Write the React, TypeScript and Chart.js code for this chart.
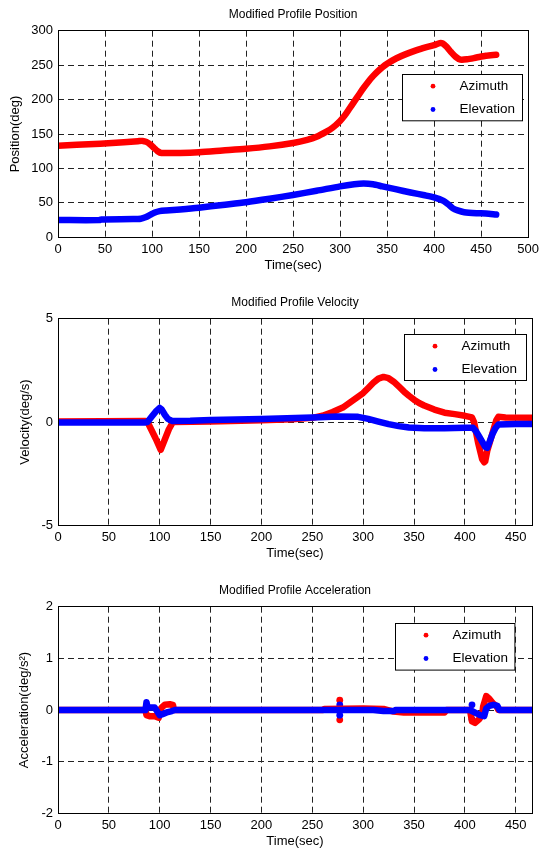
import React, { useEffect, useRef } from 'react';
import { Chart, registerables } from 'chart.js';

Chart.register(...registerables);

const FONT = '"Liberation Sans", Arial, Helvetica, sans-serif';
const RED = '#ff0000';
const BLUE = '#0000ff';

// ---------- Position panel ----------
const POS_X_TICKS = [0, 50, 100, 150, 200, 250, 300, 350, 400, 450, 500];
const POS_Y_TICKS = [0, 50, 100, 150, 200, 250, 300];
const azPosT = [0, 20, 45, 70, 85, 90, 94, 98, 102, 106, 110, 130, 150, 175, 200, 225, 250, 265, 275, 285, 292, 300, 305, 310, 315, 320, 325, 330, 335, 340, 345, 350, 360, 370, 380, 390, 400, 406, 409, 413, 418, 423, 428, 435, 445, 455, 466];
const azPosV = [133, 134.5, 136, 138, 139.5, 140, 138.5, 135, 130, 125, 122.5, 122.5, 123.5, 126, 128.5, 132, 137, 141.5, 146, 153, 159, 169, 177, 187, 197, 207, 217, 226, 234, 241, 247, 252, 260, 266, 271, 275.5, 279, 282, 281.5, 277, 269, 262, 258, 258.5, 261, 263.5, 265];
const elPosT = [0, 44, 46, 80, 88, 93, 98, 103, 108, 115, 130, 150, 175, 200, 225, 250, 275, 300, 315, 325, 335, 345, 360, 375, 390, 400, 410, 415, 420, 425, 432, 445, 455, 466];
const elPosV = [25, 25, 26, 26.5, 27, 29, 32.5, 36, 38, 39, 40.5, 43, 47, 51, 56, 61.5, 67.5, 74, 77, 78, 77, 74, 69.5, 65, 61, 58, 53, 48, 42, 39, 36.5, 35, 34.5, 33];

// ---------- Velocity panel ----------
const VEL_X_TICKS = [0, 50, 100, 150, 200, 250, 300, 350, 400, 450];
const VEL_Y_TICKS = [-5, 0, 5];
const azVelT = [0, 86, 88, 92, 96, 101, 105, 109, 113, 150, 200, 230, 250, 260, 270, 280, 290, 300, 305, 310, 315, 320, 325, 330, 335, 340, 345, 350, 355, 360, 370, 380, 390, 400, 407, 409, 411, 413, 415, 417, 419, 420, 422, 425, 428, 431, 433, 440, 466];
const azVelV = [0.02, 0.05, 0, -0.4, -0.8, -1.35, -0.85, -0.35, 0, 0.02, 0.08, 0.13, 0.2, 0.3, 0.48, 0.7, 1.05, 1.4, 1.65, 1.9, 2.1, 2.18, 2.12, 1.95, 1.72, 1.48, 1.27, 1.08, 0.92, 0.8, 0.6, 0.45, 0.38, 0.3, 0.22, 0, -0.5, -1.0, -1.4, -1.8, -1.95, -1.9, -1.4, -0.9, -0.4, 0.1, 0.25, 0.22, 0.2];
const elVelT = [0, 86, 88, 92, 96, 100, 102, 105, 108, 112, 130, 150, 200, 250, 275, 295, 305, 315, 325, 335, 345, 360, 380, 400, 408, 411, 414, 417, 420, 422, 424, 427, 430, 433, 450, 466];
const elVelV = [-0.02, -0.02, 0, 0.25, 0.5, 0.68, 0.6, 0.35, 0.15, 0.05, 0.06, 0.1, 0.15, 0.22, 0.27, 0.25, 0.15, 0.02, -0.1, -0.2, -0.27, -0.3, -0.3, -0.28, -0.28, -0.45, -0.7, -0.95, -1.2, -1.25, -1.0, -0.6, -0.3, -0.12, -0.1, -0.1];

// ---------- Acceleration panel ----------
const ACC_X_TICKS = [0, 50, 100, 150, 200, 250, 300, 350, 400, 450];
const ACC_Y_TICKS = [-2, -1, 0, 1, 2];
const azAccT = [0, 86, 87, 90, 95, 99, 100, 102, 105, 110, 113, 114, 260, 262, 300, 320, 330, 340, 380, 382, 405, 407, 410, 414, 417, 418, 420, 421, 424, 428, 431, 433, 466];
const azAccV = [0, 0, -0.1, -0.12, -0.12, -0.15, 0, 0.05, 0.1, 0.11, 0.1, 0, 0, 0.02, 0.03, 0.02, -0.03, -0.05, -0.05, 0, 0, -0.22, -0.25, -0.18, -0.1, 0.07, 0.2, 0.27, 0.22, 0.12, 0.08, 0, 0];
const elAccT = [0, 86, 87, 88, 95, 100, 104, 108, 112, 115, 310, 320, 330, 332, 405, 410, 415, 419, 421, 424, 428, 432, 434, 466];
const elAccV = [0, 0, 0.15, 0.05, 0.05, -0.1, -0.07, -0.04, -0.02, 0, 0, -0.02, -0.02, 0, 0, -0.05, -0.1, -0.12, 0.03, 0.08, 0.1, 0.08, 0, 0];
const azAccSpikeT = [277, 277];
const azAccSpikeV = [0.19, -0.19];
const elAccSpikeT = [277, 277, 407, 407];
const elAccSpikeV = [0.1, -0.1, 0.1, -0.18];

const TIME_END = 466;

type Series = { label: string; t: number[]; v: number[]; color: string; line: boolean; order: number };
type LegendBox = { dx: number; dy: number; w: number; h: number };
type PanelSpec = {
  title: string;
  yLabel: string;
  yTitlePad: number;
  xMax: number;
  xTicks: number[];
  yMin: number;
  yMax: number;
  yTicks: number[];
  series: Series[];
  legend: LegendBox;
  padBottom: number;
  tension: number;
};

const framePlugin = {
  id: 'matlabFrame',
  afterDraw(chart: any, _args: any, opts: any) {
    const { ctx, chartArea: a } = chart;
    ctx.save();
    ctx.setLineDash([]);
    // axes box
    const l = Math.round(a.left - 0.5) + 0.5;
    const t = Math.round(a.top - 0.5) + 0.5;
    const r = Math.round(a.right - 0.5) + 0.5;
    const b = Math.round(a.bottom - 0.5) + 0.5;
    ctx.strokeStyle = '#000';
    ctx.lineWidth = 1;
    ctx.strokeRect(l, t, r - l, b - t);
    // title
    ctx.fillStyle = '#000';
    ctx.font = `12px ${FONT}`;
    ctx.textAlign = 'center';
    ctx.textBaseline = 'middle';
    ctx.fillText(opts.title, (a.left + a.right) / 2, a.top - 16);
    // legend
    const lg = opts.legend;
    const lx = Math.round(a.right + lg.dx) + 0.5;
    const ly = Math.round(a.top + lg.dy) + 0.5;
    ctx.fillStyle = '#fff';
    ctx.fillRect(lx, ly, lg.w, lg.h);
    ctx.strokeStyle = '#000';
    ctx.strokeRect(lx, ly, lg.w, lg.h);
    const items = chart.data.datasets.slice(0, 2);
    const rows = [11.7, 35];
    ctx.font = `13.5px ${FONT}`;
    ctx.textAlign = 'left';
    items.forEach((ds: any, i: number) => {
      const yy = ly + rows[i];
      ctx.fillStyle = ds.borderColor;
      ctx.beginPath();
      ctx.arc(lx + 30.5, yy, 2.4, 0, Math.PI * 2);
      ctx.fill();
      ctx.fillStyle = '#000';
      ctx.fillText(ds.label, lx + 57, yy);
    });
    ctx.restore();
  },
};

function buildConfig(p: PanelSpec): any {
  const datasets = p.series.map((s) => ({
    label: s.label,
    data: s.t.map((x, i) => ({ x, y: s.v[i] })),
    showLine: s.line,
    borderColor: s.color,
    backgroundColor: s.color,
    borderWidth: s.line ? 6.5 : 0,
    pointRadius: s.line ? 0 : 3.4,
    pointBackgroundColor: s.color,
    pointBorderWidth: 0,
    tension: p.tension,
    borderCapStyle: 'round',
    borderJoinStyle: 'round',
    order: s.order,
  }));
  const tickFont = { family: FONT, size: 13 };
  const titleFont = { family: FONT, size: 13 };
  return {
    type: 'scatter',
    data: { datasets },
    options: {
      animation: false,
      responsive: false,
      devicePixelRatio: 1,
      events: [],
      layout: { padding: { top: 30.7, left: 0, right: 11, bottom: p.padBottom } },
      plugins: {
        legend: { display: false },
        tooltip: { enabled: false },
        matlabFrame: { title: p.title, legend: p.legend },
      },
      scales: {
        x: {
          type: 'linear',
          position: 'bottom',
          min: 0,
          max: p.xMax,
          afterBuildTicks: (sc: any) => {
            sc.ticks = p.xTicks.map((v) => ({ value: v }));
          },
          afterFit: (sc: any) => {
            sc.height = 37.7;
          },
          ticks: { font: tickFont, color: '#000', padding: 4, maxRotation: 0, autoSkip: false },
          grid: { color: '#222', lineWidth: 1, drawTicks: false },
          border: { display: false, dash: [6, 4] },
          title: { display: true, text: 'Time(sec)', font: titleFont, color: '#000', padding: { top: 0, bottom: 2 } },
        },
        y: {
          type: 'linear',
          position: 'left',
          min: p.yMin,
          max: p.yMax,
          afterBuildTicks: (sc: any) => {
            sc.ticks = p.yTicks.map((v) => ({ value: v }));
          },
          afterFit: (sc: any) => {
            sc.width = 58;
          },
          ticks: { font: tickFont, color: '#000', padding: 5, autoSkip: false },
          grid: { color: '#222', lineWidth: 1, drawTicks: false },
          border: { display: false, dash: [6, 4] },
          title: { display: true, text: p.yLabel, font: titleFont, color: '#000', padding: { top: p.yTitlePad, bottom: 0 } },
        },
      },
    },
    plugins: [framePlugin],
  };
}

const panels: { spec: PanelSpec; top: number; height: number }[] = [
  {
    top: 0,
    height: 288,
    spec: {
      title: 'Modified Profile Position',
      yLabel: 'Position(deg)',
      yTitlePad: 7.7,
      xMax: 500,
      xTicks: POS_X_TICKS,
      yMin: 0,
      yMax: 300,
      yTicks: POS_Y_TICKS,
      series: [
        { label: 'Azimuth', t: azPosT, v: azPosV, color: RED, line: true, order: 1 },
        { label: 'Elevation', t: elPosT, v: elPosV, color: BLUE, line: true, order: 0 },
      ],
      legend: { dx: -126.3, dy: 43.3, w: 120, h: 46.3 },
      padBottom: 13,
      tension: 0.25,
    },
  },
  {
    top: 288,
    height: 288,
    spec: {
      title: 'Modified Profile Velocity',
      yLabel: 'Velocity(deg/s)',
      yTitlePad: 17.5,
      xMax: TIME_END,
      xTicks: VEL_X_TICKS,
      yMin: -5,
      yMax: 5,
      yTicks: VEL_Y_TICKS,
      series: [
        { label: 'Azimuth', t: azVelT, v: azVelV, color: RED, line: true, order: 1 },
        { label: 'Elevation', t: elVelT, v: elVelV, color: BLUE, line: true, order: 0 },
      ],
      legend: { dx: -128, dy: 15, w: 122, h: 46 },
      padBottom: 13,
      tension: 0,
    },
  },
  {
    top: 576,
    height: 275,
    spec: {
      title: 'Modified Profile Acceleration',
      yLabel: 'Acceleration(deg/s²)',
      yTitlePad: 16.4,
      xMax: TIME_END,
      xTicks: ACC_X_TICKS,
      yMin: -2,
      yMax: 2,
      yTicks: ACC_Y_TICKS,
      series: [
        { label: 'Azimuth', t: azAccT, v: azAccV, color: RED, line: true, order: 1 },
        { label: 'Elevation', t: elAccT, v: elAccV, color: BLUE, line: true, order: 0 },
        { label: 'Azimuth', t: azAccSpikeT, v: azAccSpikeV, color: RED, line: false, order: 3 },
        { label: 'Elevation', t: elAccSpikeT, v: elAccSpikeV, color: BLUE, line: false, order: 2 },
      ],
      legend: { dx: -136.6, dy: 16.6, w: 119.4, h: 46.6 },
      padBottom: 0,
      tension: 0,
    },
  },
];

function Panel({ spec, top, height }: { spec: PanelSpec; top: number; height: number }) {
  const ref = useRef<HTMLCanvasElement>(null);
  useEffect(() => {
    const chart = new Chart(ref.current as HTMLCanvasElement, buildConfig(spec));
    return () => chart.destroy();
  }, [spec]);
  return (
    <canvas
      ref={ref}
      width={543}
      height={height}
      style={{ position: 'absolute', left: 0, top, width: 543, height, display: 'block' }}
    />
  );
}

export default function App() {
  return (
    <div style={{ position: 'absolute', left: 0, top: 0, width: 543, height: 851, overflow: 'hidden', background: '#fff' }}>
      {panels.map((p, i) => (
        <Panel key={i} spec={p.spec} top={p.top} height={p.height} />
      ))}
    </div>
  );
}
